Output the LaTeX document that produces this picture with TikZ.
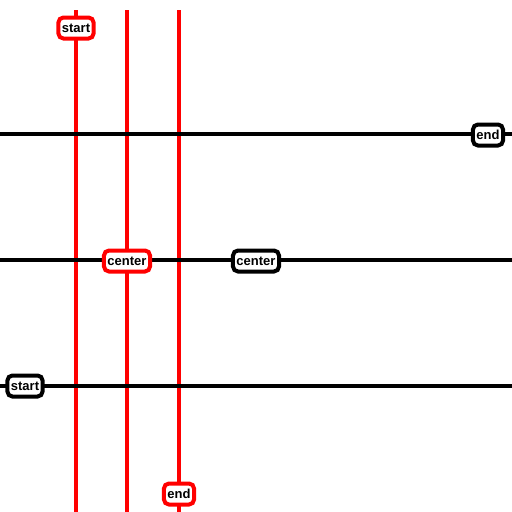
\documentclass[tikz,border=0pt]{standalone}
\usepackage{fontspec}
\setmainfont{Liberation Sans}
\begin{document}
\begin{tikzpicture}[x=1pt,y=-1pt,
  redline/.style={draw=red,line width=4.5pt},
  blackline/.style={draw=black,line width=4.5pt},
  lbl/.style={fill=white,rounded corners=5pt,line width=4pt,inner xsep=3.5pt,inner ysep=2pt,
     font=\fontsize{13}{13}\selectfont\bfseries,minimum height=21pt},
  redlbl/.style={lbl,draw=red},
  blacklbl/.style={lbl,draw=black}]
\useasboundingbox (0,0) rectangle (512,512);
% red vertical lines
\coordinate (r1t) at (76,10); \coordinate (r1b) at (76,512);
\coordinate (r2t) at (127,10); \coordinate (r2b) at (127,512);
\coordinate (r3t) at (179,10); \coordinate (r3b) at (179,512);
\draw[redline] (r1t) -- (r1b);
\draw[redline] (r2t) -- (r2b);
\draw[redline] (r3t) -- (r3b);
% black horizontal lines
\coordinate (b1l) at (0,134); \coordinate (b1r) at (512,134);
\coordinate (b2l) at (0,260); \coordinate (b2r) at (512,260);
\coordinate (b3l) at (0,386); \coordinate (b3r) at (512,386);
\draw[blackline] (b1l) -- (b1r);
\draw[blackline] (b2l) -- (b2r);
\draw[blackline] (b3l) -- (b3r);
% labels
\node[redlbl] (rs) at (76,28) {start};
\node[redlbl] (rc) at (127,261) {center};
\node[redlbl] (re) at (179,494) {end};
\node[blacklbl] (be) at (488,135) {end};
\node[blacklbl] (bc) at (256,261) {center};
\node[blacklbl] (bs) at (25,386) {start};
\end{tikzpicture}
\end{document}
